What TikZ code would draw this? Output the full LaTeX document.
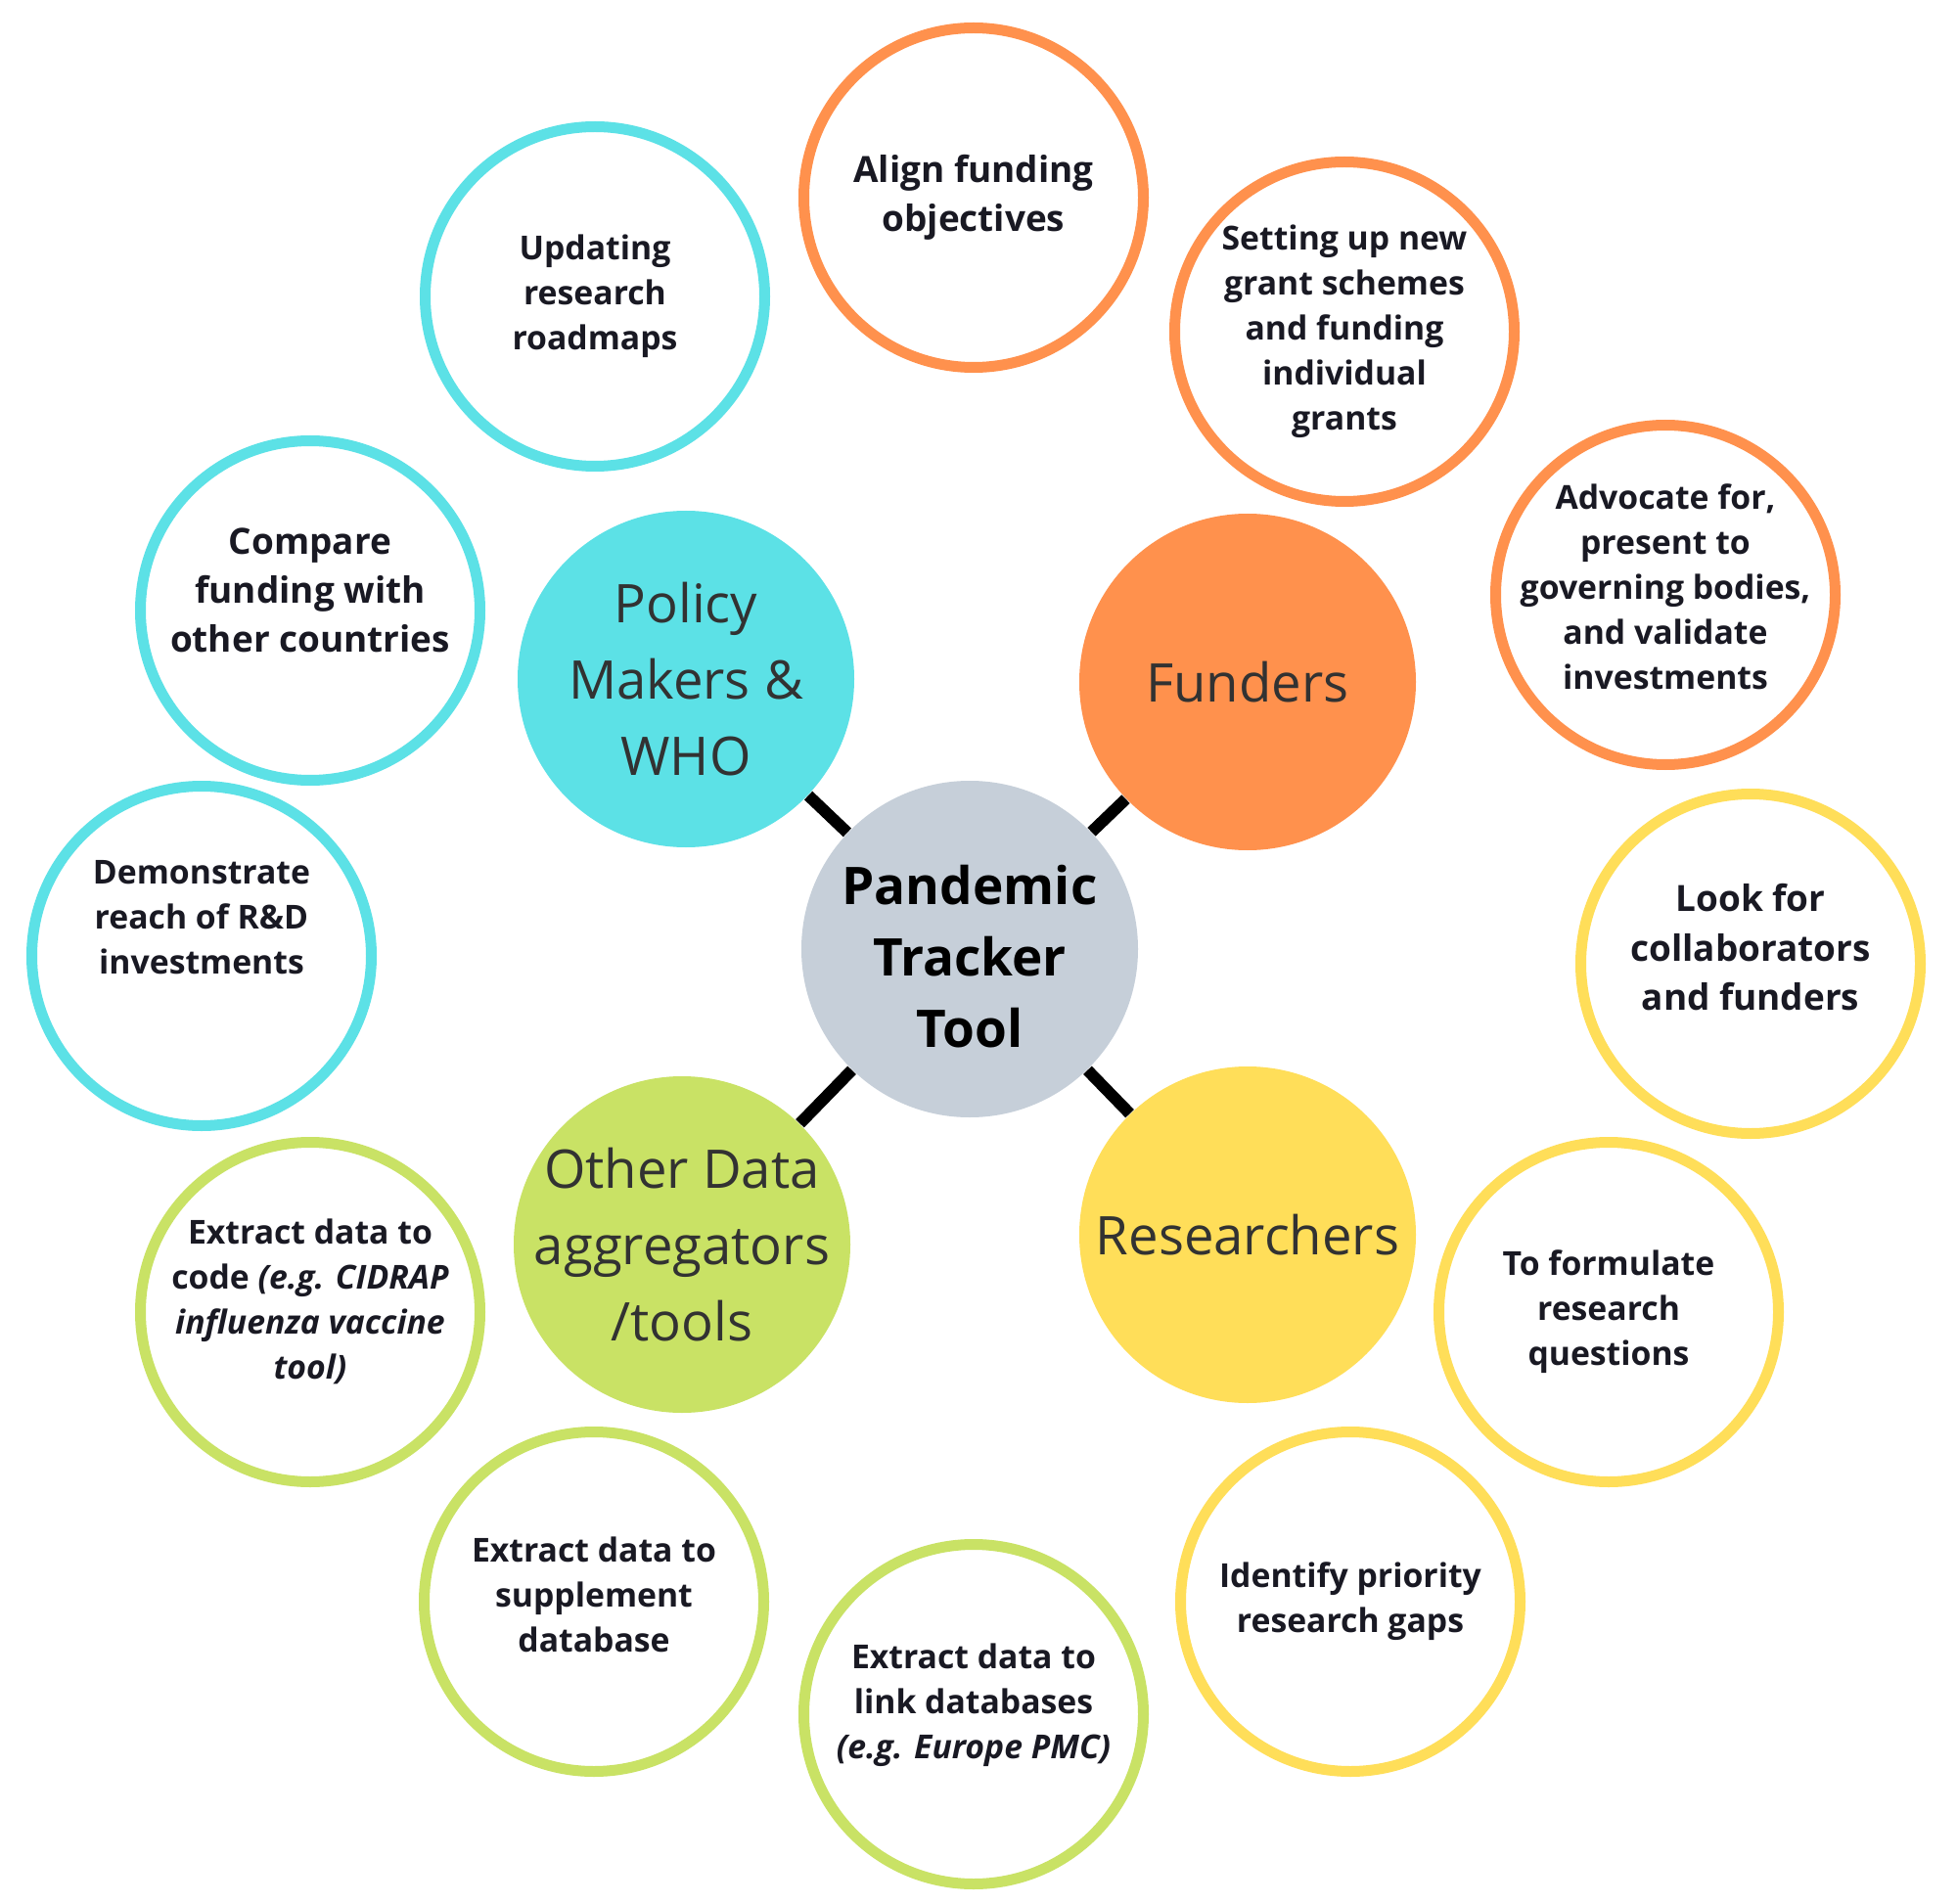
\documentclass[tikz,border=0pt]{standalone}
\usepackage{fontspec}
\setmainfont{Open Sans}
\definecolor{cyanc}{RGB}{92,225,230}
\definecolor{orangec}{RGB}{255,145,77}
\definecolor{yellowc}{RGB}{255,222,89}
\definecolor{greenc}{RGB}{201,226,101}
\definecolor{grayc}{RGB}{198,207,217}
\definecolor{txtc}{RGB}{25,25,35}
\definecolor{innc}{RGB}{50,50,50}
\newcommand\dropd[1]{\rule[-#1]{0pt}{#1}}
\begin{document}
\begin{tikzpicture}[
  outer/.style={circle, draw=#1, line width=0.11cm, minimum size=3.47cm, inner sep=-1cm, align=center, text=txtc, font=\bfseries\fontsize{9.6}{13.1}\selectfont},
  outerbig/.style={outer=#1, font=\bfseries\fontsize{10.5}{14.3}\selectfont},
  inner/.style={circle, fill=#1, minimum size=3.44cm, inner sep=-1cm, align=center, text=innc, font=\fontsize{15.5}{22.2}\selectfont},
  conn/.style={line width=0.12cm, black},
]
\fill[white] (0,0) rectangle (20,-19.46);
\useasboundingbox (0,0) rectangle (20,-19.46);

% centre and hubs
\node[inner=grayc, text=black, font=\bfseries\fontsize{15.1}{20.8}\selectfont] (ptt) at (9.91,-9.70) {\rule{0pt}{0.56cm}Pandemic\\Tracker\\Tool};
\node[inner=cyanc] (pol) at (7.01,-6.94) {Policy\\Makers \&\\WHO};
\node[inner=orangec] (fun) at (12.75,-6.97) {Funders};
\node[inner=greenc] (oth) at (6.97,-12.72) {Other Data\\aggregators\\/tools};
\node[inner=yellowc] (res) at (12.75,-12.62) {Researchers};

\draw[conn] (ptt) -- (pol);
\draw[conn] (ptt) -- (fun);
\draw[conn] (ptt) -- (oth);
\draw[conn] (ptt) -- (res);

% policy makers
\node[outer=cyanc] (upd) at (6.08,-3.03) {Updating\\research\\roadmaps};
\node[outerbig=cyanc] (cmp) at (3.17,-6.24) {Compare\\funding with\\other countries\dropd{0.42cm}};
\node[outer=cyanc] (dem) at (2.06,-9.77) {Demonstrate\\reach of R\&D\\investments\dropd{0.80cm}};

% funders
\node[outerbig=orangec] (aln) at (9.95,-2.02) {Align funding\\objectives};
\node[outer=orangec] (set) at (13.74,-3.39) {Setting up new\\grant schemes\\and funding\\individual\\grants};
\node[outer=orangec] (adv) at (17.02,-6.08) {Advocate for,\\present to\\governing bodies,\\and validate\\investments\dropd{0.16cm}};

% researchers
\node[outerbig=yellowc] (look) at (17.89,-9.85) {Look for\\collaborators\\and funders\dropd{0.34cm}};
\node[outer=yellowc] (form) at (16.44,-13.41) {To formulate\\research\\questions};
\node[outer=yellowc] (idn) at (13.80,-16.37) {Identify priority\\research gaps};

% other data aggregators
\node[outer=greenc] (lnk) at (9.95,-17.52) {Extract data to\\link databases\\\textit{(e.g. Europe PMC)}\dropd{0.26cm}};
\node[outer=greenc] (sup) at (6.07,-16.37) {Extract data to\\supplement\\database\dropd{0.14cm}};
\node[outer=greenc] (cod) at (3.17,-13.41) {Extract data to\\code \textit{(e.g. CIDRAP}\\\textit{influenza vaccine}\\\textit{tool)}\dropd{0.26cm}};
\end{tikzpicture}
\end{document}
